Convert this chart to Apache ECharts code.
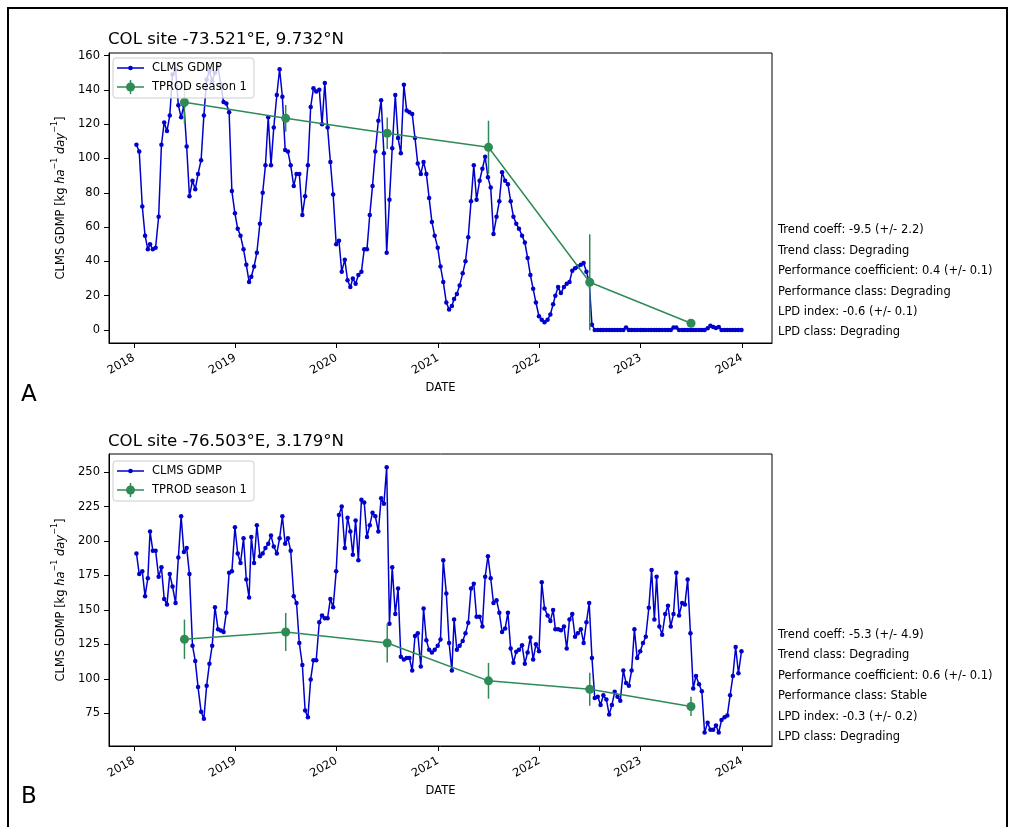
<!DOCTYPE html>
<html>
<head>
<meta charset="utf-8">
<script src="https://cdn.jsdelivr.net/npm/echarts@6/dist/echarts.min.js"></script>
<style>
  html, body { margin: 0; padding: 0; background: #ffffff; }
  #chart { width: 1013px; height: 827px; }
</style>
</head>
<body>
<div id="chart"></div>
<script>
// ---- Data -------------------------------------------------------------
// CLMS GDMP dekadal values (kg ha-1 day-1), one row per year 2018..2023
const gdmpA = [
  108,104,72,55,47,50,47,48,66,108,121,116,125,149,152,131,124,131,107,78,87,82,91,99,125,146,151,145,150,153.5,143,133,132,127,81,68,
  59,55,47,38,28,31,37,45,62,80,96,124,96,118,137,152,136,105,104,96,84,91,91,67,78,96,130,141,139,140,120,144,118,98,79,50,
  52,34,41,29,25,30,27,32,34,47,47,67,84,104,122,134,103,45,76,106,137,112,103,143,128,127,126,112,97,91,98,91,77,63,55,48,
  37,28,16,12,14,18,21,26,33,40,54,75,96,76,87,94,101,89,83,56,66,75,92,87,85,75,66,62,59,55,51,42,32,24,16,8,
  6,4.5,6,9,15,20,25,21.5,25,27,28,34.6,36,37,38,39,34,28,3,0,0,0,0,0,0,0,0,0,0,0,1.5,0,0,0,0,0,
  0,0,0,0,0,0,0,0,0,0,0,1.5,1.5,0,0,0,0,0,0,0,0,0,0,1,2.5,1.8,1.2,1.8,0,0,0,0,0,0,0,0
];
const gdmpB = [
  191,176,178,160,173,207,193,193,174,181,158,154,176,167,155,188,218,192,195,176,124,113,94,76,71,95,111,124,152,136,135,134,148,177,178,210,
  191,184,202,172,159,203,184,211.5,189,191,195,198,204,196,191,202,218,198,202,193,160,155,126,110,77,72,99.5,113.5,113.5,141,146,144,144,158,152,178,
  219,225,195,217,207,190,215,186,230,228,203,211.5,220.5,218,207,231,227,253.5,140,181,147,165.5,116,114,115,115,106,131,133,109,151,128,121,119,121,124,
  128.5,186,162,126,106,143,121,124,127.5,133,140.6,165.5,169,145,145,138,174,189,173,155,157,148,134,136.5,148,122,111.6,119.6,121,124.4,111,119,130,114,125,120,
  170,151,146,142,150,136,136,135.3,138,122,143,147,130.5,133,136,126,141,155,115,86,87,81,88,85,74,81,90.5,87,84,106,97,95,106,136,115,120,
  126,130.5,151.5,179,143,174,138,132,147,153,138,147,177,146,155,154,172,133,93,102,96,91,61,68,63,63,66,61,70,72,73.4,88,102,123,104,120
];

// TPROD season 1 (one value per season, with its uncertainty)
const seasonDates = ['2018-07-02','2019-07-02','2020-07-02','2021-07-02','2022-07-02','2023-07-02'];
const tprodA    = [132.8, 123.4, 114.7, 106.5, 27.8, 3.9];
const tprodErrA = [12.4, 7.8, 9.2, 15.5, 28, 2];
const tprodB    = [128.7, 134, 126, 98.5, 92.4, 79.9];
const tprodErrB = [14.3, 13.8, 14.2, 13, 12, 7];

// Axis ticks
const yearTicks = ['2018-01-01','2019-01-01','2020-01-01','2021-01-01','2022-01-01','2023-01-01','2024-01-01'];
const yTicksA = [0, 20, 40, 60, 80, 100, 120, 140, 160];
const yTicksB = [75, 100, 125, 150, 175, 200, 225, 250];

// Site titles and indicator summaries
const titleA = 'COL site -73.521°E, 9.732°N';
const titleB = 'COL site -76.503°E, 3.179°N';
const statsA = [
  'Trend coeff: -9.5 (+/- 2.2)',
  'Trend class: Degrading',
  'Performance coefficient: 0.4 (+/- 0.1)',
  'Performance class: Degrading',
  'LPD index: -0.6 (+/- 0.1)',
  'LPD class: Degrading'
];
const statsB = [
  'Trend coeff: -5.3 (+/- 4.9)',
  'Trend class: Degrading',
  'Performance coefficient: 0.6 (+/- 0.1)',
  'Performance class: Stable',
  'LPD index: -0.3 (+/- 0.2)',
  'LPD class: Degrading'
];

// ---- Helpers ------------------------------------------------------------
const FONT = 'DejaVu Sans';
const BLUE = '#0000cd';
const GREEN = '#2e8b57';
const FS = 11.5;

const toTime = s => +echarts.time.parse(s);

// Dekad dates: 10th, 20th and last day of every month, 2018..2023
function dekadDates() {
  const out = [];
  const pad = n => (n < 10 ? '0' : '') + n;
  for (let y = 2018; y <= 2023; y++) {
    for (let m = 1; m <= 12; m++) {
      const last = new Date(y, m, 0).getDate();
      [10, 20, last].forEach(d => out.push(y + '-' + pad(m) + '-' + pad(d)));
    }
  }
  return out;
}
const dates = dekadDates().map(toTime);
const seasonTimes = seasonDates.map(toTime);
const yearTickValues = yearTicks.map(toTime);

function xAxisFor(gridIndex) {
  return {
    type: 'value', gridIndex,
    min: toTime('2017-10-03'), max: toTime('2024-04-19'),
    name: 'DATE', nameLocation: 'middle', nameGap: 39,
    nameTextStyle: { fontFamily: FONT, fontSize: FS, color: '#000' },
    axisLine: { show: true, onZero: false, lineStyle: { color: '#000', width: 1 } },
    axisTick: { show: true, length: 5, lineStyle: { color: '#000' }, customValues: yearTickValues },
    axisLabel: {
      show: true, rotate: 30, margin: 14, fontFamily: FONT, fontSize: FS, color: '#000',
      customValues: yearTickValues, hideOverlap: false,
      formatter: v => String(new Date(v).getFullYear())
    },
    splitLine: { show: false }
  };
}

function yAxisFor(gridIndex, min, max, ticks) {
  return {
    type: 'value', gridIndex, min, max,
    name: '{n|CLMS GDMP [kg }{i|ha}{s|−1}{n| }{i|day}{s|−1}{n|]}',
    nameLocation: 'middle', nameGap: 38,
    nameTextStyle: {
      fontFamily: FONT, fontSize: FS, color: '#000',
      rich: {
        n: { fontFamily: FONT, fontSize: FS, color: '#000', lineHeight: 16, verticalAlign: 'bottom' },
        i: { fontFamily: FONT, fontSize: FS, color: '#000', fontStyle: 'italic', lineHeight: 16, verticalAlign: 'bottom' },
        s: { fontFamily: FONT, fontSize: 8, color: '#000', lineHeight: 16, verticalAlign: 'top' }
      }
    },
    axisLine: { show: true, onZero: false, lineStyle: { color: '#000', width: 1 } },
    axisTick: { show: true, length: 5, lineStyle: { color: '#000' }, customValues: ticks },
    axisLabel: { show: true, margin: 9, fontFamily: FONT, fontSize: FS, color: '#000', customValues: ticks },
    splitLine: { show: false }
  };
}

function gdmpSeries(idx, values) {
  return {
    type: 'line', xAxisIndex: idx, yAxisIndex: idx,
    data: dates.map((d, i) => [d, values[i]]),
    symbol: 'circle', symbolSize: 4.5, showAllSymbol: true,
    lineStyle: { color: BLUE, width: 1.5 },
    itemStyle: { color: BLUE },
    z: 2, silent: true
  };
}

function tprodSeries(idx, values) {
  return {
    type: 'line', xAxisIndex: idx, yAxisIndex: idx,
    data: seasonTimes.map((d, i) => [d, values[i]]),
    symbol: 'circle', symbolSize: 9, showAllSymbol: true,
    lineStyle: { color: GREEN, width: 1.5 },
    itemStyle: { color: GREEN },
    z: 4, silent: true
  };
}

function errorSeries(idx, values, errs) {
  return {
    type: 'custom', xAxisIndex: idx, yAxisIndex: idx,
    data: seasonTimes.map((d, i) => [d, values[i], errs[i]]),
    encode: { x: 0, y: 1 },
    renderItem: (params, api) => {
      const x = api.value(0), v = api.value(1), e = api.value(2);
      const lo = api.coord([x, v - e]);
      const hi = api.coord([x, v + e]);
      return {
        type: 'line',
        shape: { x1: lo[0], y1: lo[1], x2: hi[0], y2: hi[1] },
        style: { stroke: GREEN, lineWidth: 1.5 }
      };
    },
    z: 3, silent: true
  };
}

// Legend box drawn as graphic elements (line/marker keys + labels)
function legendBox(top) {
  const y1 = top + 10, y2 = top + 29;
  return [
    { type: 'rect', z: 50, shape: { x: 113, y: top, width: 141, height: 40, r: 3 },
      style: { fill: 'rgba(255,255,255,0.8)', stroke: '#cccccc', lineWidth: 1 } },
    { type: 'line', z: 51, shape: { x1: 117, y1: y1, x2: 144, y2: y1 }, style: { stroke: BLUE, lineWidth: 1.5 } },
    { type: 'circle', z: 52, shape: { cx: 130.5, cy: y1, r: 2.3 }, style: { fill: BLUE } },
    { type: 'text', z: 52, x: 152, y: y1, style: { text: 'CLMS GDMP', font: FS + 'px "' + FONT + '"', fill: '#000', verticalAlign: 'middle' } },
    { type: 'line', z: 51, shape: { x1: 117, y1: y2, x2: 144, y2: y2 }, style: { stroke: GREEN, lineWidth: 1.5 } },
    { type: 'line', z: 51, shape: { x1: 130.5, y1: y2 - 7, x2: 130.5, y2: y2 + 7 }, style: { stroke: GREEN, lineWidth: 1.5 } },
    { type: 'circle', z: 52, shape: { cx: 130.5, cy: y2, r: 4.5 }, style: { fill: GREEN } },
    { type: 'text', z: 52, x: 152, y: y2, style: { text: 'TPROD season 1', font: FS + 'px "' + FONT + '"', fill: '#000', verticalAlign: 'middle' } }
  ];
}

function statsTexts(lines, y0) {
  return lines.map((t, k) => ({
    type: 'text', z: 50, x: 778, y: y0 + 20.4 * k,
    style: { text: t, font: FS + 'px "' + FONT + '"', fill: '#000', verticalAlign: 'middle' }
  }));
}

function plainText(t, x, y, size) {
  return { type: 'text', z: 50, x, y,
    style: { text: t, font: size + 'px "' + FONT + '"', fill: '#000', verticalAlign: 'middle' } };
}

// ---- Chart ----------------------------------------------------------------
const chart = echarts.init(document.getElementById('chart'), null, { renderer: 'canvas' });

chart.setOption({
  animation: false,
  backgroundColor: '#ffffff',
  textStyle: { fontFamily: FONT },
  grid: [
    { left: 109, top: 53, width: 663, height: 290, show: true, borderColor: '#000', borderWidth: 1, backgroundColor: 'transparent' },
    { left: 109, top: 454, width: 663, height: 292, show: true, borderColor: '#000', borderWidth: 1, backgroundColor: 'transparent' }
  ],
  xAxis: [xAxisFor(0), xAxisFor(1)],
  yAxis: [yAxisFor(0, -7.6, 161.5, yTicksA), yAxisFor(1, 51.2, 263.2, yTicksB)],
  series: [
    gdmpSeries(0, gdmpA), errorSeries(0, tprodA, tprodErrA), tprodSeries(0, tprodA),
    gdmpSeries(1, gdmpB), errorSeries(1, tprodB, tprodErrB), tprodSeries(1, tprodB)
  ],
  graphic: [
    { type: 'rect', z: 60, shape: { x: 8, y: 8, width: 999, height: 840 },
      style: { fill: 'none', stroke: '#000', lineWidth: 2 } },
    plainText(titleA, 108, 40, 16.6),
    plainText(titleB, 108, 441.5, 16.6),
    plainText('A', 21, 395, 23),
    plainText('B', 21, 797, 23),
    ...legendBox(58),
    ...legendBox(461),
    ...statsTexts(statsA, 230.5),
    ...statsTexts(statsB, 635)
  ]
});
</script>
</body>
</html>
